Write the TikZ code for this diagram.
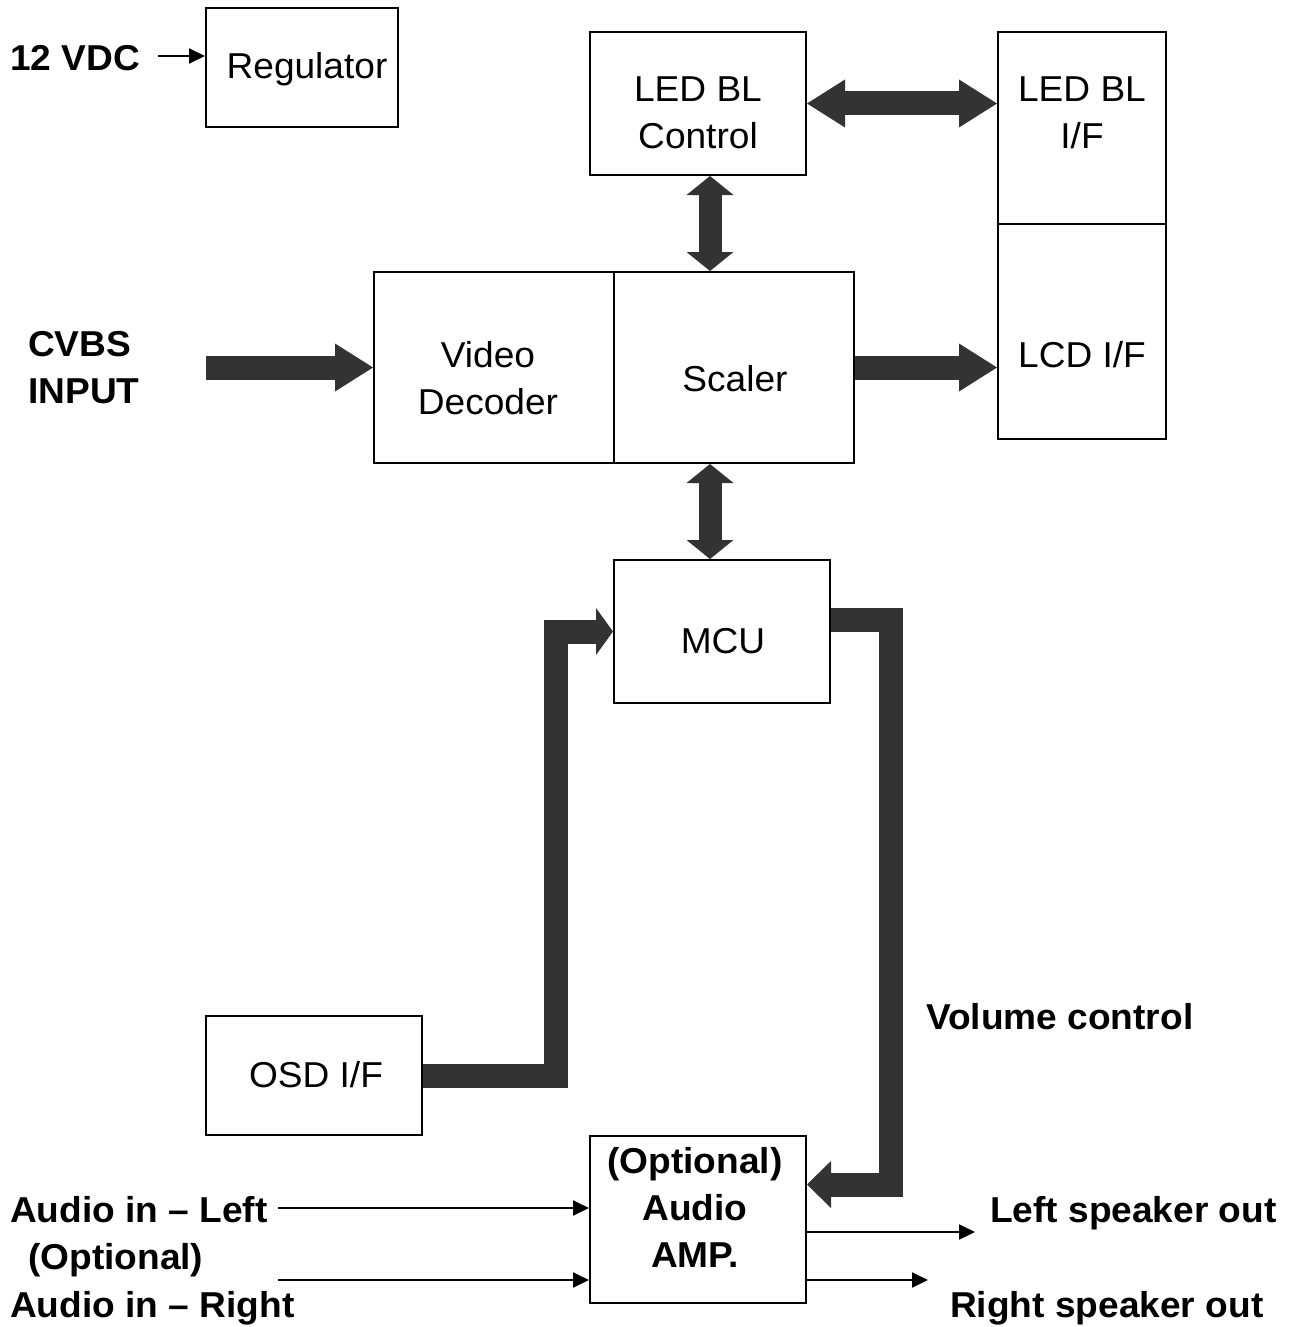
\documentclass[tikz,border=0pt]{standalone}
\usepackage{fontspec}
\setmainfont[FakeStretch=1.03]{Liberation Sans}
\usetikzlibrary{arrows.meta,calc}
\definecolor{fatgray}{HTML}{333333}
\begin{document}
\begin{tikzpicture}[x=1pt,y=-1pt,
  box/.style={draw,line width=2pt,inner sep=0pt},
  lbl/.style={inner sep=0pt,font=\fontsize{36}{47}\selectfont,align=center},
  blbl/.style={inner sep=0pt,font=\fontsize{36}{47}\selectfont\bfseries,align=left},
  thinarrow/.style={line width=2pt,-{Triangle[length=16pt,width=15pt]}},
  fat/.style={draw=fatgray,line width=24pt,line cap=butt,line join=miter},
  tipLong/.tip={Triangle[length=38pt,width=48pt,line width=0pt]},
  tipShort/.tip={Triangle[length=19pt,width=47pt,line width=0pt]},
  tipOsd/.tip={Triangle[length=17pt,width=47pt,line width=0pt]},
  tipMid/.tip={Triangle[length=24pt,width=47pt,line width=0pt]}
]
\useasboundingbox (0,0) rectangle (1292,1327);

% boxes
\node[box,minimum width=192pt,minimum height=119pt] (reg) at (302,67.5) {};
\node[box,minimum width=216pt,minimum height=143pt] (ledc) at (698,103.5) {};
\node[box,minimum width=168pt,minimum height=192pt] (ledif) at (1082,128) {};
\node[box,minimum width=168pt,minimum height=215pt] (lcdif) at (1082,331.5) {};
\node[box,minimum width=240pt,minimum height=191pt] (vdec) at (494,367.5) {};
\node[box,minimum width=240pt,minimum height=191pt] (scal) at (734,367.5) {};
\node[box,minimum width=216pt,minimum height=143pt] (mcu) at (722,631.5) {};
\node[box,minimum width=216pt,minimum height=119pt] (osd) at (314,1075.5) {};
\node[box,minimum width=216pt,minimum height=167pt] (amp) at (698,1219.5) {};

% texts
\node[blbl,anchor=north west] (t12) at (10,45) {12 VDC};
\node[lbl,anchor=north] (tReg) at (307,52) {Regulator};
\node[lbl,anchor=north] (tLedc) at (698,77) {LED BL\\Control};
\node[lbl,anchor=north] (tLedif) at (1082,77) {LED BL\\I/F};
\node[lbl,anchor=north] (tLcd) at (1082,341) {LCD I/F};
\node[blbl,anchor=north west] (tCvbs) at (28,331) {CVBS\\INPUT};
\node[lbl,anchor=north] (tVdec) at (488,341) {Video\\Decoder};
\node[lbl,anchor=north] (tScal) at (735,365) {Scaler};
\node[lbl,anchor=north] (tMcu) at (723,628) {MCU};
\node[lbl,anchor=north] (tOsd) at (316,1061) {OSD I/F};
\node[blbl,anchor=north west] (tVol) at (926,1003) {Volume control};
\node[blbl,align=center,anchor=north] (tAmp) at (695,1147) {(Optional)\\Audio\\AMP.};
\node[blbl,anchor=north west] (tAinL) at (10,1196) {Audio in – Left};
\node[blbl,anchor=north west] (tOpt) at (28,1243) {(Optional)};
\node[blbl,anchor=north west] (tAinR) at (10,1291) {Audio in – Right};
\node[blbl,anchor=north west] (tLout) at (990,1196) {Left speaker out};
\node[blbl,anchor=north west] (tRout) at (950,1291) {Right speaker out};

% free ends
\coordinate (vin) at (158,56);
\coordinate (cvbsin) at (206,367.5);
\coordinate (ainL) at (278,1208);
\coordinate (ainR) at (278,1280);
\coordinate (loutE) at (975,1232);
\coordinate (routE) at (928,1280);

% thin arrows
\draw[thinarrow] (vin) -- (vin -| reg.west);
\draw[thinarrow] (ainL) -- (ainL -| amp.west);
\draw[thinarrow] (ainR) -- (ainR -| amp.west);
\draw[thinarrow] (loutE -| amp.east) -- (loutE);
\draw[thinarrow] (routE -| amp.east) -- (routE);

% fat arrows
\draw[fat,-tipLong] (cvbsin) -- (vdec.west);
\draw[fat,-tipLong] (scal.east) -- (scal.east -| lcdif.west);
\draw[fat,tipLong-tipLong] (ledc.east) -- (ledc.east -| ledif.west);
\draw[fat,line width=23pt,tipShort-tipShort] ([xshift=12pt]ledc.south) -- ([xshift=12pt]ledc.south |- scal.north);
\draw[fat,line width=23pt,tipShort-tipShort] ([xshift=-12pt]mcu.north |- scal.south) -- ([xshift=-12pt]mcu.north);
\draw[fat,-tipOsd] (osd.east) -- ++(133,0) |- (mcu.west);
\draw[fat,-tipMid] ([yshift=11.5pt]mcu.east) -- ++(60,0) |- ([yshift=35pt]amp.east);
\end{tikzpicture}
\end{document}
